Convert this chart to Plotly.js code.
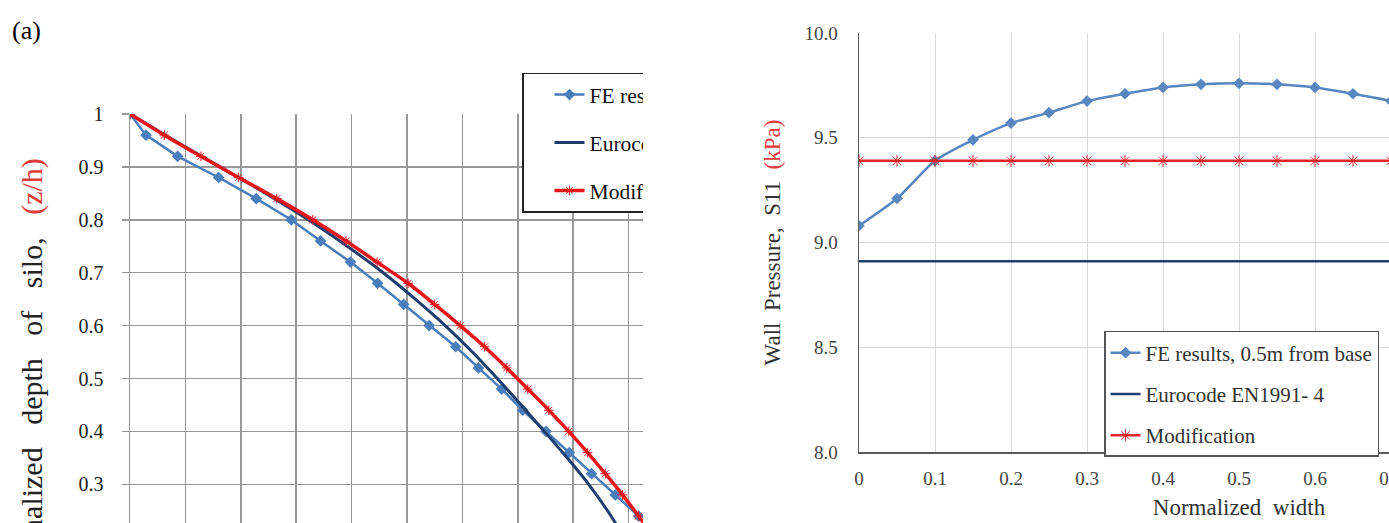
<!DOCTYPE html>
<html>
<head>
<meta charset="utf-8">
<script src="https://cdn.plot.ly/plotly-3.0.1.min.js"></script>
<style>
  html, body { margin: 0; padding: 0; background: #fff; overflow: hidden; width: 1389px; height: 523px; }
  .panel { position: absolute; top: 0; overflow: hidden; }
  #panelA { left: 0; width: 643px; height: 523px; }
  #panelB { left: 760px; width: 629px; height: 523px; }
</style>
</head>
<body>
<div id="panelA" class="panel"><div id="chartA"></div></div>
<div id="panelB" class="panel"><div id="chartB"></div></div>
<script>
// ---- Panel (a): pressure profile over silo depth ----
const depthFE = [1.00, 0.96, 0.92, 0.88, 0.84, 0.80, 0.76, 0.72, 0.68, 0.64, 0.60, 0.56, 0.52, 0.48, 0.44, 0.40, 0.36, 0.32, 0.28, 0.24];
const pressFE = [0.000, 0.029, 0.086, 0.160, 0.228, 0.291, 0.344, 0.398, 0.447, 0.494, 0.540, 0.588, 0.629, 0.671, 0.709, 0.751, 0.793, 0.833, 0.876, 0.918];

const depthEC = [1.00, 0.95, 0.90, 0.85, 0.80, 0.75, 0.70, 0.65, 0.60, 0.55, 0.50, 0.45, 0.40, 0.35, 0.30, 0.25, 0.20];
const pressEC = [0.000, 0.080, 0.162, 0.245, 0.322, 0.392, 0.457, 0.515, 0.569, 0.618, 0.663, 0.706, 0.748, 0.789, 0.828, 0.862, 0.892];

const depthMod = [1.00, 0.96, 0.92, 0.88, 0.84, 0.80, 0.76, 0.72, 0.68, 0.64, 0.60, 0.56, 0.52, 0.48, 0.44, 0.40, 0.36, 0.32, 0.28, 0.24, 0.20];
const pressMod = [0.000, 0.062, 0.128, 0.196, 0.265, 0.330, 0.390, 0.446, 0.502, 0.550, 0.596, 0.640, 0.680, 0.718, 0.756, 0.792, 0.826, 0.858, 0.889, 0.918, 0.946];

// ---- Panel (b): wall pressure across the width, 0.5 m above the base ----
const widthPts = [0, 0.05, 0.10, 0.15, 0.20, 0.25, 0.30, 0.35, 0.40, 0.45, 0.50, 0.55, 0.60, 0.65, 0.70, 0.75];
const wallFE   = [9.08, 9.21, 9.39, 9.49, 9.57, 9.62, 9.675, 9.71, 9.74, 9.755, 9.76, 9.755, 9.74, 9.71, 9.675, 9.62];
const wallEC   = [8.91, 8.91, 8.91, 8.91, 8.91, 8.91, 8.91, 8.91, 8.91, 8.91, 8.91, 8.91, 8.91, 8.91, 8.91, 8.91];
const wallMod  = [9.39, 9.39, 9.39, 9.39, 9.39, 9.39, 9.39, 9.39, 9.39, 9.39, 9.39, 9.39, 9.39, 9.39, 9.39, 9.39];

const seriesNames = ['FE results, 0.5m from base', 'Eurocode EN1991- 4', 'Modification'];

const SERIF = 'Liberation Serif, Times New Roman, serif';
const C_FE = '#4a7dbb';
const C_EC = '#1f3d6e';
const C_MOD = '#e8141c';
const SP = '&nbsp;&nbsp; ';

// ---------- chart (a) ----------
const tracesA = [
  { x: pressFE, y: depthFE, name: seriesNames[0], legendgroup: 'g1', type: 'scatter', mode: 'lines+markers',
    line: { color: C_FE, width: 2.5 }, marker: { symbol: 'diamond', size: 9, color: C_FE } },
  { x: pressEC, y: depthEC, name: seriesNames[1], legendgroup: 'g2', type: 'scatter', mode: 'lines',
    line: { color: C_EC, width: 3, shape: 'spline' } },
  { x: pressMod, y: depthMod, name: seriesNames[2], legendgroup: 'g3', type: 'scatter', mode: 'lines+markers',
    line: { color: C_MOD, width: 3.5, shape: 'spline' },
    marker: { symbol: 'asterisk-open', size: 8, color: C_MOD, line: { color: 'rgba(236,60,60,0.55)', width: 1 } } }
];

const layoutA = {
  width: 900, height: 700,
  margin: { l: 130, r: 216, t: 113.5, b: 56.5 },
  paper_bgcolor: '#fff', plot_bgcolor: '#fff',
  font: { family: SERIF, color: '#111' },
  showlegend: true,
  xaxis: {
    range: [0, 1], tick0: 0, dtick: 0.1, showgrid: true, gridcolor: '#989898', gridwidth: 1.5,
    zeroline: false, showline: false, showticklabels: false, ticks: ''
  },
  yaxis: {
    range: [0, 1], tick0: 0, dtick: 0.1, showgrid: true, gridcolor: '#989898', gridwidth: 1.5,
    zeroline: false, showline: true, linecolor: '#989898', linewidth: 1.5,
    ticks: 'outside', ticklen: 7, tickwidth: 1.5, tickcolor: '#989898',
    ticklabelstandoff: 14,
    tickfont: { family: SERIF, size: 20, color: '#222' },
    automargin: false
  },
  legend: {
    x: 0.7076, y: 1.0783, xanchor: 'left', yanchor: 'top',
    bgcolor: '#fff', bordercolor: '#222', borderwidth: 1.5,
    font: { family: SERIF, size: 21.5, color: '#111' },
    tracegroupgap: 17, indentation: 26
  },
  annotations: [
    { text: '(a)', xref: 'paper', yref: 'paper', x: -0.1877, y: 1.1575, xanchor: 'center', yanchor: 'middle',
      showarrow: false, font: { family: SERIF, size: 26, color: '#000' } },
    { text: 'Normalized' + SP + 'depth' + SP + 'of' + SP + 'silo,' + SP + '<span style="color:#e03a3a">(z/h)</span>',
      xref: 'paper', yref: 'paper', x: -0.1769, y: 0.9217, xanchor: 'center', yanchor: 'top', textangle: -90,
      showarrow: false, font: { family: SERIF, size: 30, color: '#222' } }
  ]
};

// ---------- chart (b) ----------
const tracesB = [
  { x: widthPts, y: wallFE, name: seriesNames[0], legendgroup: 'g1', type: 'scatter', mode: 'lines+markers',
    line: { color: '#5886c1', width: 2.5, shape: 'spline', smoothing: 0.6 },
    marker: { symbol: 'diamond', size: 9, color: '#5886c1' } },
  { x: widthPts, y: wallEC, name: seriesNames[1], legendgroup: 'g2', type: 'scatter', mode: 'lines',
    line: { color: '#22406f', width: 2.5 } },
  { x: widthPts, y: wallMod, name: seriesNames[2], legendgroup: 'g3', type: 'scatter', mode: 'lines+markers',
    line: { color: '#e3262b', width: 2.5 },
    marker: { symbol: 'asterisk-open', size: 10, color: '#e3262b', line: { color: '#e3262b', width: 1 } } }
];

const layoutB = {
  width: 1000, height: 523,
  margin: { l: 99, r: 141, t: 33, b: 71 },
  paper_bgcolor: '#fff', plot_bgcolor: '#fff',
  font: { family: SERIF, color: '#333' },
  showlegend: true,
  xaxis: {
    range: [0, 1], tick0: 0, dtick: 0.1, showgrid: true, gridcolor: '#dadada', gridwidth: 1,
    zeroline: false, showline: true, linecolor: '#5a5a5a', linewidth: 1.5, ticks: '',
    ticklabelstandoff: 9, automargin: false,
    tickfont: { family: SERIF, size: 19, color: '#444' },
    title: { text: 'Normalized&nbsp; width', font: { family: SERIF, size: 23, color: '#333' }, standoff: 10 }
  },
  yaxis: {
    range: [8, 10], tick0: 8, dtick: 0.5, tickformat: '.1f', showgrid: true, gridcolor: '#dadada', gridwidth: 1,
    zeroline: false, showline: true, linecolor: '#5a5a5a', linewidth: 1.5, ticks: '',
    ticklabelstandoff: 16, automargin: false,
    tickfont: { family: SERIF, size: 19, color: '#444' },
    title: {
      text: 'Wall&nbsp; Pressure,&nbsp; S11&nbsp; <span style="color:#e03a3a">(kPa)</span>',
      font: { family: SERIF, size: 23, color: '#333' }, standoff: 19
    }
  },
  legend: {
    x: 0.3224, y: 0.2888, xanchor: 'left', yanchor: 'top',
    bgcolor: '#fff', bordercolor: '#555', borderwidth: 1.5,
    font: { family: SERIF, size: 21, color: '#333' },
    tracegroupgap: 11
  }
};

const cfg = { staticPlot: true, displayModeBar: false, responsive: false };
Plotly.newPlot('chartA', tracesA, layoutA, cfg);
Plotly.newPlot('chartB', tracesB, layoutB, cfg);
</script>
</body>
</html>
